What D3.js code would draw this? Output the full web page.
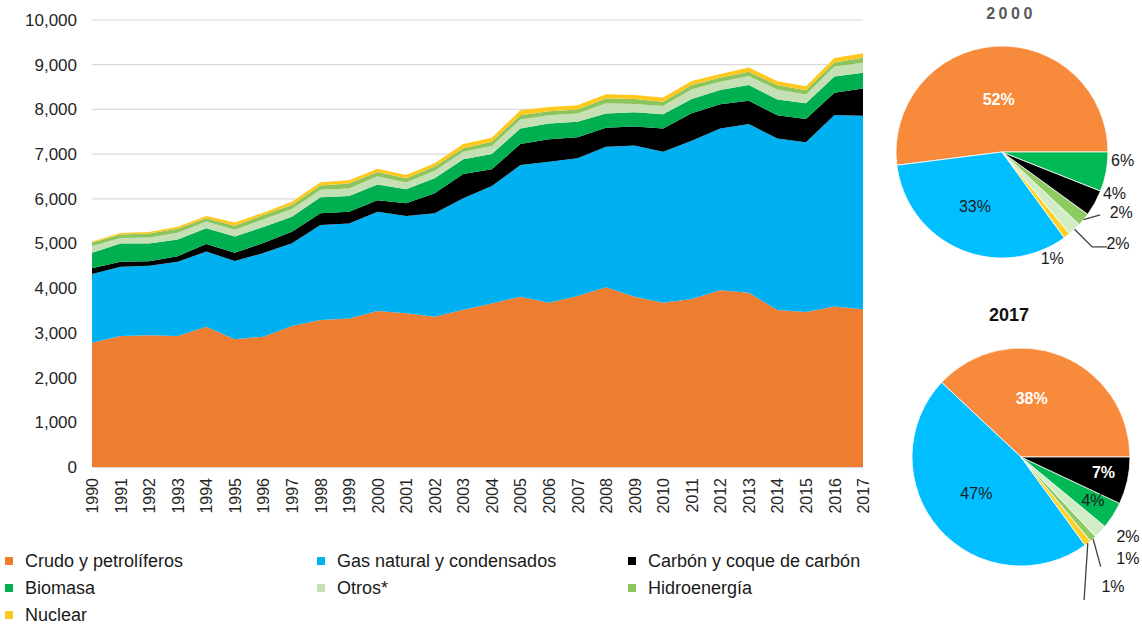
<!DOCTYPE html>
<html>
<head>
  <meta charset="UTF-8">
  <title>Consumo de energía primaria</title>
  <script src="https://d3js.org/d3.v7.min.js"></script>
  <style>
    body { margin: 0; background: #fff; }
    svg text { font-family: "Liberation Sans", Arial, sans-serif; }
  </style>
</head>
<body>
  <svg id="chart" width="1142" height="624"></svg>

  <script>
    // Data (stacked bottom to top)
    const years = [1990, 1991, 1992, 1993, 1994, 1995, 1996, 1997, 1998, 1999,
                   2000, 2001, 2002, 2003, 2004, 2005, 2006, 2007, 2008, 2009,
                   2010, 2011, 2012, 2013, 2014, 2015, 2016, 2017];
    const crudo   = [2780, 2930, 2950, 2930, 3140, 2860, 2915, 3155, 3290, 3320, 3490, 3440, 3360, 3520,
                     3660, 3810, 3675, 3825, 4020, 3810, 3675, 3760, 3955, 3900, 3510, 3470, 3590, 3530];
    const gas     = [1540, 1550, 1550, 1660, 1680, 1750, 1870, 1850, 2125, 2130, 2220, 2175, 2315, 2490,
                     2625, 2945, 3155, 3080, 3145, 3380, 3380, 3540, 3620, 3775, 3840, 3795, 4285, 4330];
    const carbon  = [125, 110, 105, 125, 170, 185, 225, 260, 260, 260, 260, 285, 450, 545,
                     375, 470, 500, 470, 425, 425, 520, 615, 540, 520, 520, 520, 500, 610];
    const biomasa = [350, 410, 395, 375, 350, 360, 360, 335, 360, 350, 350, 315, 335, 330,
                     340, 350, 355, 350, 320, 320, 315, 320, 320, 350, 350, 350, 360, 350];
    const otros   = [150, 125, 135, 150, 150, 150, 175, 170, 165, 170, 185, 150, 170, 170,
                     180, 200, 185, 185, 225, 185, 185, 215, 185, 200, 225, 200, 225, 225];
    const hidro   = [75, 75, 90, 90, 75, 90, 90, 90, 95, 110, 95, 95, 90, 75,
                     95, 95, 90, 90, 110, 110, 95, 95, 90, 95, 95, 95, 90, 110];
    const nuclear = [25, 35, 35, 45, 50, 75, 55, 75, 75, 75, 75, 75, 75, 95,
                     90, 110, 95, 95, 95, 90, 95, 90, 80, 100, 90, 90, 100, 100];

    const seriesKeys   = ["crudo", "gas", "carbon", "biomasa", "otros", "hidro", "nuclear"];
    const seriesNames  = ["Crudo y petrolíferos", "Gas natural y condensados", "Carbón y coque de carbón",
                          "Biomasa", "Otros*", "Hidroenergía", "Nuclear"];
    const yTicks = [0, 1000, 2000, 3000, 4000, 5000, 6000, 7000, 8000, 9000, 10000];

    // Pie shares (percent), in the order the slices run counter-clockwise from 3 o'clock
    const pie2000Keys   = ["crudo", "gas", "nuclear", "otros", "hidro", "carbon", "biomasa"];
    const pie2000Values = [52, 33, 1, 2, 2, 4, 6];
    const pie2017Keys   = ["crudo", "gas", "nuclear", "hidro", "otros", "biomasa", "carbon"];
    const pie2017Values = [38, 47, 1, 1, 2, 4, 7];

    // Colours
    const areaColor = { crudo: "#ED7D31", gas: "#00B0F0", carbon: "#000000", biomasa: "#00B050",
                        otros: "#C5E0B4", hidro: "#8CC45E", nuclear: "#FFC81E" };
    const pieColor  = { crudo: "#F88A3C", gas: "#00BEFF", carbon: "#000000", biomasa: "#00B955",
                        otros: "#D2EDC6", hidro: "#8ECB63", nuclear: "#FFD22A" };

    const svg = d3.select("#chart");

    // ---------- stacked area ----------
    const table = years.map((y, i) => ({
      year: y, crudo: crudo[i], gas: gas[i], carbon: carbon[i], biomasa: biomasa[i],
      otros: otros[i], hidro: hidro[i], nuclear: nuclear[i]
    }));

    const x = d3.scaleLinear().domain([1990, 2017]).range([92, 863]);
    const y = d3.scaleLinear().domain([0, 10000]).range([467, 20]);

    // gridlines
    svg.append("g").selectAll("line")
      .data(yTicks.filter(t => t > 0))
      .join("line")
      .attr("x1", x(1990)).attr("x2", x(2017))
      .attr("y1", d => y(d)).attr("y2", d => y(d))
      .attr("stroke", "#D9D9D9").attr("stroke-width", 1.2);

    const stacked = d3.stack().keys(seriesKeys)(table);
    const area = d3.area()
      .x(d => x(d.data.year))
      .y0(d => y(d[0]))
      .y1(d => y(d[1]));

    svg.append("g").selectAll("path")
      .data(stacked)
      .join("path")
      .attr("d", area)
      .attr("fill", d => areaColor[d.key]);

    // bottom axis line
    svg.append("line")
      .attr("x1", x(1990)).attr("x2", x(2017))
      .attr("y1", y(0) + 0.5).attr("y2", y(0) + 0.5)
      .attr("stroke", "#D9D9D9").attr("stroke-width", 1);

    // y axis
    const yAxis = svg.append("g")
      .attr("transform", `translate(${x(1990)},0)`)
      .call(d3.axisLeft(y).tickValues(yTicks).tickSize(0).tickPadding(15)
            .tickFormat(d3.format(",")));
    yAxis.select(".domain").remove();
    yAxis.selectAll("text")
      .attr("font-size", 17)
      .attr("fill", "#262626")
      .style("font-family", "'Liberation Sans', Arial, sans-serif");

    // x axis (rotated years)
    const xAxis = svg.append("g")
      .attr("transform", `translate(0,${y(0)})`)
      .call(d3.axisBottom(x).tickValues(years).tickSize(0).tickFormat(d3.format("d")));
    xAxis.select(".domain").remove();
    xAxis.selectAll("text")
      .attr("font-size", 16)
      .attr("fill", "#262626")
      .attr("transform", "rotate(-90)")
      .attr("text-anchor", "end")
      .attr("x", -11)
      .attr("y", 0)
      .attr("dy", "0.35em")
      .style("font-family", "'Liberation Sans', Arial, sans-serif");

    // ---------- legend ----------
    const legendCols = [5, 317, 628];
    const legendRows = [561, 588, 615];
    const legend = svg.append("g").selectAll("g")
      .data(seriesKeys)
      .join("g")
      .attr("transform", (d, i) => `translate(${legendCols[i % 3]},${legendRows[Math.floor(i / 3)]})`);
    legend.append("rect")
      .attr("x", 0).attr("y", -4).attr("width", 8).attr("height", 8)
      .attr("fill", d => areaColor[d]);
    legend.append("text")
      .attr("x", 20).attr("y", 0).attr("dy", "0.35em")
      .attr("font-size", 18)
      .attr("fill", "#1a1a1a")
      .text((d, i) => seriesNames[i]);

    // ---------- pies ----------
    const deg = Math.PI / 180;
    function polar(theta, r) { return [r * Math.sin(theta), -r * Math.cos(theta)]; }

    // label layout: da = angle shift (deg, counter-clockwise) from slice middle, k = radius factor
    const pie2000Labels = [
      { da: 0,    k: 0.50, fill: "#fff", bold: true },
      { da: -3.2, k: 0.57, fill: "#1a1a1a" },
      { da: -12.5, k: 1.11, fill: "#1a1a1a" },
      { da: 8.7,  k: 1.39, fill: "#1a1a1a", leader: [[0, 1], [0.3, 1.235], [4.7, 1.336]] },
      { da: 12.8, k: 1.26, fill: "#1a1a1a", leader: [[0, 1], [6.9, 1.10]] },
      { da: 8.7,  k: 1.13, fill: "#1a1a1a" },
      { da: 7,    k: 1.14, fill: "#1a1a1a" }
    ];
    const pie2017Labels = [
      { da: 11.3, k: 0.55, fill: "#fff", bold: true },
      { da: -2,   k: 0.53, fill: "#1a1a1a" },
      { da: -2.5, k: 1.46, fill: "#1a1a1a", leader: [[0, 1], [-14, 1.434]] },
      { da: 5.2,  k: 1.35, fill: "#1a1a1a", leader: [[0, 1], [-5.4, 1.244]] },
      { da: 6.8,  k: 1.22, fill: "#1a1a1a" },
      { da: 1.4,  k: 0.77, fill: "#1a1a1a" },
      { da: 1.8,  k: 0.77, fill: "#fff", bold: true }
    ];

    function drawPie(cx, cy, r, keys, values, labels) {
      const pie = d3.pie().sort(null).value(d => d)
        .startAngle(Math.PI / 2).endAngle(Math.PI / 2 - 2 * Math.PI);
      const arcs = pie(values);
      const arc = d3.arc().innerRadius(0).outerRadius(r);
      const g = svg.append("g").attr("transform", `translate(${cx},${cy})`);

      g.selectAll("path")
        .data(arcs)
        .join("path")
        .attr("d", arc)
        .attr("fill", (d, i) => pieColor[keys[i]])
        .attr("stroke", "#fff")
        .attr("stroke-width", 0.8);

      arcs.forEach((a, i) => {
        const mid = (a.startAngle + a.endAngle) / 2;
        const L = labels[i];
        if (L.leader) {
          const pts = L.leader.map(p => polar(mid - p[0] * deg, p[1] * r));
          g.append("path")
            .attr("d", d3.line()(pts))
            .attr("fill", "none")
            .attr("stroke", "#404040")
            .attr("stroke-width", 1.3);
        }
        const p = polar(mid - L.da * deg, L.k * r);
        g.append("text")
          .attr("x", p[0]).attr("y", p[1])
          .attr("dy", "0.35em")
          .attr("text-anchor", "middle")
          .attr("font-size", 16)
          .attr("font-weight", L.bold ? "bold" : "normal")
          .attr("fill", L.fill)
          .text(values[i] + "%");
      });
    }

    drawPie(1002, 152, 106, pie2000Keys, pie2000Values, pie2000Labels);
    drawPie(1021, 457, 109, pie2017Keys, pie2017Values, pie2017Labels);

    svg.append("text")
      .attr("x", 1011).attr("y", 13).attr("dy", "0.35em")
      .attr("text-anchor", "middle")
      .attr("font-size", 16).attr("font-weight", "bold")
      .attr("letter-spacing", 3.5)
      .attr("fill", "#595959")
      .text("2000");
    svg.append("text")
      .attr("x", 1009).attr("y", 315).attr("dy", "0.35em")
      .attr("text-anchor", "middle")
      .attr("font-size", 18).attr("font-weight", "bold")
      .attr("fill", "#111")
      .text("2017");
  </script>
</body>
</html>
